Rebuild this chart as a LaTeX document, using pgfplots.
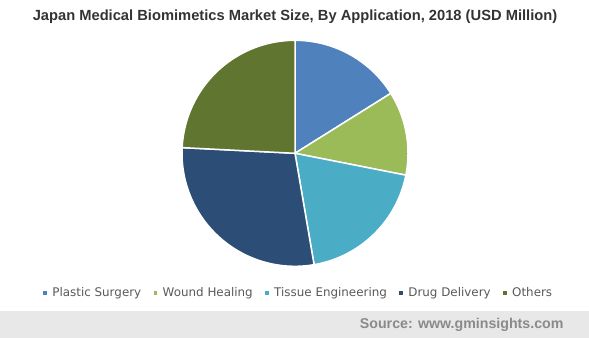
\documentclass[border=0pt]{standalone}
\usepackage{pgfplots}
\pgfplotsset{compat=1.18}
\usepackage{pgfplotstable}
\usepackage{fontspec}
\setmainfont{Liberation Sans}
\newfontfamily\legfont{DejaVu Sans}
\definecolor{cA}{HTML}{4F81BD}
\definecolor{cB}{HTML}{9BBB59}
\definecolor{cC}{HTML}{4BACC6}
\definecolor{cD}{HTML}{2C4D75}
\definecolor{cE}{HTML}{5F7530}
\definecolor{titlegray}{HTML}{333333}
\definecolor{legtext}{HTML}{595959}
\definecolor{srcgray}{HTML}{8A8A8A}
\definecolor{band}{HTML}{E8E8E8}
\pgfplotstableread{
app value
PlasticSurgery 16.1
WoundHealing 12.0
TissueEngineering 19.2
DrugDelivery 28.5
Others 24.2
}\piedata
\begin{document}
\begin{tikzpicture}
\pgfplotstablegetelem{0}{value}\of\piedata \let\vA\pgfplotsretval
\pgfplotstablegetelem{1}{value}\of\piedata \let\vB\pgfplotsretval
\pgfplotstablegetelem{2}{value}\of\piedata \let\vC\pgfplotsretval
\pgfplotstablegetelem{3}{value}\of\piedata \let\vD\pgfplotsretval
\pgfplotstablegetelem{4}{value}\of\piedata \let\vE\pgfplotsretval
\pgfmathsetmacro\aA{90}
\pgfmathsetmacro\aB{\aA-3.6*\vA}
\pgfmathsetmacro\aC{\aB-3.6*\vB}
\pgfmathsetmacro\aD{\aC-3.6*\vC}
\pgfmathsetmacro\aE{\aD-3.6*\vD}
\pgfmathsetmacro\aF{\aE-3.6*\vE}
\begin{axis}[
  at={(0,0)}, anchor=south west,
  scale only axis, width=589bp, height=338bp,
  xmin=0, xmax=589, ymin=-338, ymax=0,
  hide axis, clip=false,
  legend columns=5,
  legend image code/.code={\fill[#1] (0bp,-2.6bp) rectangle (5.2bp,2.6bp); \path (7bp,0bp);},
  legend style={at={(0.506,0.1331)}, anchor=center, draw=none, fill=none,
    font=\legfont\fontsize{11.9bp}{13bp}\selectfont, text=legtext,
    /tikz/every even column/.append style={column sep=9bp},
    inner sep=0pt},
]
\fill[band] (axis cs:0,-338) rectangle (axis cs:589,-311);
\addplot[fill=cA, draw=white, line width=1.5bp, domain=\aB:\aA, samples=60, variable=\t] ({295+113*cos(\t)},{-153.3+113*sin(\t)}) -- (axis cs:295,-153.3) -- cycle;
\addlegendentry{Plastic Surgery}
\addplot[fill=cB, draw=white, line width=1.5bp, domain=\aC:\aB, samples=60, variable=\t] ({295+113*cos(\t)},{-153.3+113*sin(\t)}) -- (axis cs:295,-153.3) -- cycle;
\addlegendentry{Wound Healing}
\addplot[fill=cC, draw=white, line width=1.5bp, domain=\aD:\aC, samples=60, variable=\t] ({295+113*cos(\t)},{-153.3+113*sin(\t)}) -- (axis cs:295,-153.3) -- cycle;
\addlegendentry{Tissue Engineering}
\addplot[fill=cD, draw=white, line width=1.5bp, domain=\aE:\aD, samples=80, variable=\t] ({295+113*cos(\t)},{-153.3+113*sin(\t)}) -- (axis cs:295,-153.3) -- cycle;
\addlegendentry{Drug Delivery}
\addplot[fill=cE, draw=white, line width=1.5bp, domain=\aF:\aE, samples=80, variable=\t] ({295+113*cos(\t)},{-153.3+113*sin(\t)}) -- (axis cs:295,-153.3) -- cycle;
\addlegendentry{Others}
\node[font=\bfseries\fontsize{14.7bp}{16bp}\selectfont, text=titlegray] at (axis cs:295,-17) {Japan Medical Biomimetics Market Size, By Application, 2018 (USD Million)};
\node[anchor=east, font=\bfseries\fontsize{14.2bp}{16bp}\selectfont, text=srcgray] at (axis cs:567,-324.5) {Source: www.gminsights.com};
\end{axis}
\pgfresetboundingbox
\path[use as bounding box] (0,0) rectangle (589bp,338bp);
\end{tikzpicture}
\end{document}
